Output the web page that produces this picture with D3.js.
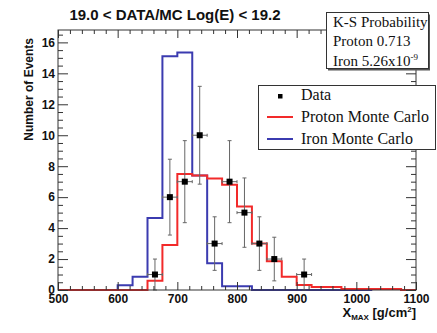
<!DOCTYPE html>
<html><head><meta charset="utf-8">
<script src="https://cdn.jsdelivr.net/npm/d3@7"></script>
<style>
html,body{margin:0;padding:0;background:#fff;}
svg{display:block;}
</style></head>
<body><svg id="c" width="437" height="333"></svg>
<script>
// ---------- data ----------
const binEdges = [500,525,550,575,600,625,650,675,700,725,750,775,800,825,850,875,900,925,950,975,1000,1025,1050,1075,1100];
const protonMC = [0,0,0,0,0,0,0.6,2.9,7.5,7.4,7.2,6.8,5.4,3.0,1.85,0.85,0.33,0.2,0.2,0.07,0.07,0.07,0.07,0];
const ironMC   = [0,0,0,0,0.3,0.86,4.65,15.1,15.35,7.4,1.73,0.25,0.25,0,0,0,0,0,0,0,0,0.07,0.07,0];
const dataX    = [662.5,687.5,712.5,737.5,762.5,787.5,812.5,837.5,862.5,912.5];
const dataY    = [1,6,7,10,3,7,5,3,2,1];
const dataErr  = [1,2.45,2.65,3.16,1.73,2.65,2.24,1.73,1.41,1];
const xTicks   = [500,600,700,800,900,1000,1100];
const yTicks   = [0,2,4,6,8,10,12,14,16];
const ksLines  = ["K-S Probability","Proton 0.713","Iron 5.26x10"];
const legendLabels = ["Data","Proton Monte Carlo","Iron Monte Carlo"];

// ---------- layout ----------
const L=58, R=416, T=30, B=290;
const svg = d3.select("#c");
const x = d3.scaleLinear().domain([500,1100]).range([L,R]);
const y = d3.scaleLinear().domain([0,16.8]).range([B,T]);
const red="#f22a2a", blue="#3b3bb0", axisCol="#333";
const sans="'Liberation Sans', Arial, Helvetica, sans-serif";
const serif="'Liberation Serif', 'Times New Roman', serif";

// histograms
function stepPath(vals){
  const pts=[];
  vals.forEach((v,i)=>{pts.push([binEdges[i],v]);});
  pts.push([binEdges[binEdges.length-1], vals[vals.length-1]]);
  return d3.line().x(d=>x(d[0])).y(d=>y(d[1])).curve(d3.curveStepAfter)(pts);
}
svg.append("path").attr("d",stepPath(ironMC)).attr("fill","none").attr("stroke",blue).attr("stroke-width",2);
svg.append("path").attr("d",stepPath(protonMC)).attr("fill","none").attr("stroke",red).attr("stroke-width",2);

// data points with errors
const eg = svg.append("g").attr("stroke","#666").attr("stroke-width",1);
dataX.forEach((cx,i)=>{
  const yv=dataY[i], e=dataErr[i];
  const px=x(cx), py=y(yv);
  const x0=x(cx-12.5), x1=x(cx+12.5);
  const y0=y(Math.max(0,yv-e)), y1=y(yv+e);
  eg.append("line").attr("x1",x0).attr("x2",x1).attr("y1",py).attr("y2",py);
  eg.append("line").attr("x1",px).attr("x2",px).attr("y1",y0).attr("y2",y1);
  eg.append("line").attr("x1",px-2).attr("x2",px+2).attr("y1",y1).attr("y2",y1);
  eg.append("line").attr("x1",px-2).attr("x2",px+2).attr("y1",y0).attr("y2",y0);
  eg.append("line").attr("x1",x0).attr("x2",x0).attr("y1",py-1.5).attr("y2",py+1.5);
  eg.append("line").attr("x1",x1).attr("x2",x1).attr("y1",py-1.5).attr("y2",py+1.5);
});
svg.append("g").selectAll("rect").data(dataX).join("rect")
  .attr("x",d=>x(d)-3).attr("y",(d,i)=>y(dataY[i])-3).attr("width",6).attr("height",6).attr("fill","#000");

// axes
const xMinor = d3.range(500,1101,20).filter(v=>v%100!==0);
const yMinor = d3.range(0,16.81,0.5).filter(v=>Math.abs(v%2)>1e-9);
function styleAxis(g){ g.select(".domain").remove(); g.selectAll("line").attr("stroke",axisCol); }
// bottom
svg.append("g").attr("transform",`translate(0,${B})`)
  .call(d3.axisBottom(x).tickValues(xTicks).tickSize(-8).tickPadding(4).tickFormat(d3.format("d")))
  .call(styleAxis)
  .call(g=>g.selectAll("text").attr("font-family",sans).attr("font-weight","bold").attr("font-size",12).attr("fill","#111"));
svg.append("g").attr("transform",`translate(0,${B})`)
  .call(d3.axisBottom(x).tickValues(xMinor).tickSize(-4).tickFormat(""))
  .call(styleAxis);
// top
svg.append("g").attr("transform",`translate(0,${T})`)
  .call(d3.axisTop(x).tickValues(xTicks).tickSize(-8).tickFormat(""))
  .call(styleAxis);
svg.append("g").attr("transform",`translate(0,${T})`)
  .call(d3.axisTop(x).tickValues(xMinor).tickSize(-4).tickFormat(""))
  .call(styleAxis);
// left
svg.append("g").attr("transform",`translate(${L},0)`)
  .call(d3.axisLeft(y).tickValues(yTicks).tickSize(-10).tickPadding(3).tickFormat(d3.format("d")))
  .call(styleAxis)
  .call(g=>g.selectAll("text").attr("font-family",sans).attr("font-weight","bold").attr("font-size",12).attr("fill","#111"));
svg.append("g").attr("transform",`translate(${L},0)`)
  .call(d3.axisLeft(y).tickValues(yMinor).tickSize(-5).tickFormat(""))
  .call(styleAxis);
// right
svg.append("g").attr("transform",`translate(${R},0)`)
  .call(d3.axisRight(y).tickValues(yTicks).tickSize(-10).tickFormat(""))
  .call(styleAxis);
svg.append("g").attr("transform",`translate(${R},0)`)
  .call(d3.axisRight(y).tickValues(yMinor).tickSize(-5).tickFormat(""))
  .call(styleAxis);
// frame
svg.append("rect").attr("x",L).attr("y",T).attr("width",R-L).attr("height",B-T)
  .attr("fill","none").attr("stroke",axisCol).attr("stroke-width",1);

// title
svg.append("text").attr("x",175).attr("y",20).attr("text-anchor","middle")
  .attr("font-family",sans).attr("font-weight","bold").attr("font-size",15).attr("fill","#111")
  .text("19.0 < DATA/MC Log(E) < 19.2");

// axis titles
const xt = svg.append("text").attr("x",R).attr("y",317).attr("text-anchor","end")
  .attr("font-family",sans).attr("font-weight","bold").attr("font-size",13).attr("fill","#111");
xt.append("tspan").text("X");
xt.append("tspan").attr("font-size",8).attr("dy",3).text("MAX");
xt.append("tspan").attr("dy",-3).text(" [g/cm");
xt.append("tspan").attr("font-size",8).attr("dy",-5).text("2");
xt.append("tspan").attr("dy",5).text("]");
svg.append("text").attr("transform","translate(33,38) rotate(-90)").attr("text-anchor","end")
  .attr("font-family",sans).attr("font-weight","bold").attr("font-size",12).attr("fill","#111")
  .text("Number of Events");

// K-S box
svg.append("rect").attr("x",328).attr("y",14.5).attr("width",102).attr("height",56).attr("fill","#555");
svg.append("rect").attr("x",326.5).attr("y",12.5).attr("width",102).attr("height",56)
  .attr("fill","#fff").attr("stroke",axisCol);
const ksY=[26.5,46,65.5];
ksLines.forEach((t,i)=>{
  const tx=svg.append("text").attr("x",333).attr("y",ksY[i]).attr("font-family",serif)
    .attr("font-size",15).attr("fill","#111").text(t);
  if(i===2) tx.append("tspan").attr("font-size",9).attr("dy",-6).text("-9");
});

// legend
svg.append("rect").attr("x",258.5).attr("y",85.5).attr("width",177).attr("height",64)
  .attr("fill","#fff").attr("stroke",axisCol);
const legY=[100,122,144];
svg.append("rect").attr("x",278).attr("y",legY[0]-6).attr("width",4.5).attr("height",4.5).attr("fill","#000");
svg.append("line").attr("x1",267).attr("x2",293).attr("y1",legY[1]-5).attr("y2",legY[1]-5).attr("stroke",red).attr("stroke-width",2);
svg.append("line").attr("x1",267).attr("x2",293).attr("y1",legY[2]-5).attr("y2",legY[2]-5).attr("stroke",blue).attr("stroke-width",2);
legendLabels.forEach((t,i)=>{
  svg.append("text").attr("x",301).attr("y",legY[i]).attr("font-family",serif)
    .attr("font-size",16).attr("fill","#111").text(t);
});
</script></body></html>
